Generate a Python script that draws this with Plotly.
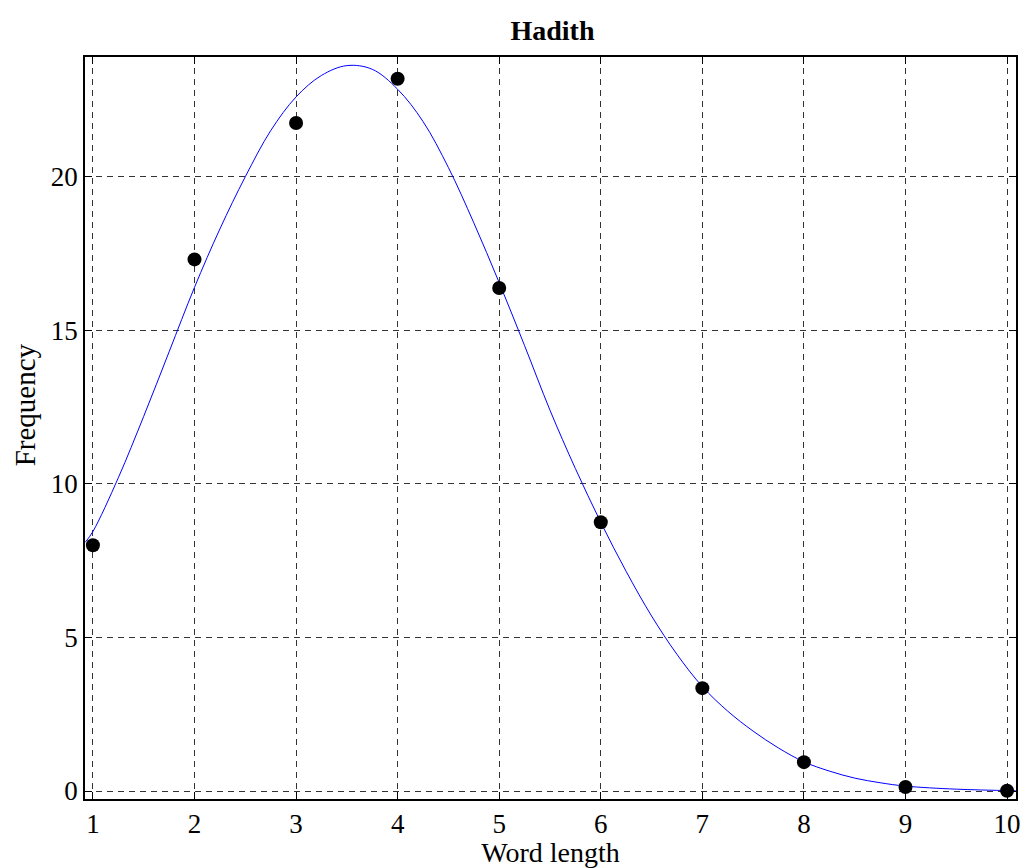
import plotly.graph_objects as go

# Observed word-length frequencies
word_length = [1, 2, 3, 4, 5, 6, 7, 8, 9, 10]
frequency = [8.0, 17.31, 21.75, 23.19, 16.38, 8.75, 3.35, 0.94, 0.13, 0.01]

# Fitted curve, sampled along the word-length axis
fit_x = [0.925, 1.0, 1.25, 1.5, 1.75, 2.0, 2.25, 2.5, 2.75, 3.0, 3.25, 3.5,
         3.75, 4.0, 4.25, 4.5, 4.75, 5.0, 5.25, 5.5, 5.75, 6.0, 6.25, 6.5,
         6.75, 7.0, 7.25, 7.5, 7.75, 8.0, 8.25, 8.5, 8.75, 9.0, 9.5, 10.085]
fit_y = [8.1, 8.45, 10.2, 12.2, 14.3, 16.4, 18.3, 20.0, 21.5, 22.6, 23.3, 23.62,
         23.5, 22.85, 21.8, 20.3, 18.5, 16.55, 14.5, 12.4, 10.5, 8.75, 7.15, 5.7,
         4.45, 3.4, 2.6, 1.95, 1.4, 0.95, 0.65, 0.42, 0.27, 0.16, 0.06, 0.01]

x_ticks = [1, 2, 3, 4, 5, 6, 7, 8, 9, 10]
y_ticks = [0, 5, 10, 15, 20]

FONT = "Liberation Serif, Times New Roman, serif"

fig = go.Figure()
fig.add_trace(go.Scatter(
    x=fit_x, y=fit_y, mode="lines",
    line=dict(color="#0000ff", width=1, shape="spline", smoothing=1.0),
    showlegend=False, hoverinfo="skip",
))
fig.add_trace(go.Scatter(
    x=word_length, y=frequency, mode="markers",
    marker=dict(color="black", size=14, line=dict(width=0)),
    showlegend=False,
))

axis_common = dict(
    showline=True, linecolor="black", linewidth=1.5, mirror="ticks",
    ticks="inside", ticklen=7, tickcolor="black", tickwidth=1,
    showgrid=True, gridcolor="#333333", gridwidth=1, griddash="6px,5px",
    zeroline=False,
    tickfont=dict(family=FONT, size=27, color="black"),
)

fig.update_layout(
    width=1026, height=868,
    margin=dict(l=85, r=5, t=57, b=69),
    paper_bgcolor="white", plot_bgcolor="white",
    font=dict(family=FONT, color="black"),
    title=dict(
        text="<b>Hadith</b>", x=0.5385, xanchor="center", y=0.965, yanchor="middle",
        font=dict(family=FONT, size=28, color="black"),
    ),
    xaxis=dict(
        range=[0.922, 10.088], tickmode="array", tickvals=x_ticks,
        title=dict(text="Word length", font=dict(family=FONT, size=28), standoff=2),
        **axis_common,
    ),
    yaxis=dict(
        range=[-0.26, 23.9], tickmode="array", tickvals=y_ticks,
        **axis_common,
    ),
    annotations=[dict(
        text="Frequency", textangle=-90, showarrow=False,
        xref="paper", yref="paper", x=-0.0641, y=0.531,
        xanchor="center", yanchor="middle",
        font=dict(family=FONT, size=29, color="black"),
    )],
)

fig.write_html("out.html")
